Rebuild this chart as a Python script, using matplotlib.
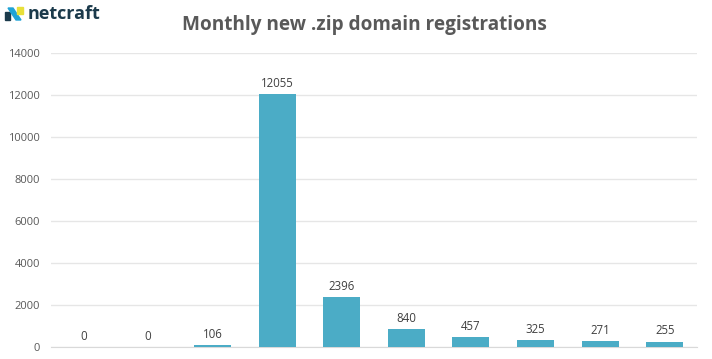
import matplotlib.pyplot as plt
from matplotlib.patches import Polygon

# Données
months = ['M1', 'M2', 'M3', 'M4', 'M5', 'M6', 'M7', 'M8', 'M9', 'M10']
registrations = [0, 0, 106, 12055, 2396, 840, 457, 325, 271, 255]
yticks = [0, 2000, 4000, 6000, 8000, 10000, 12000, 14000]

plt.rcParams['font.family'] = ['Open Sans', 'DejaVu Sans']

fig = plt.figure(figsize=(7.12, 3.59), dpi=100)
W, H = 712, 359
ax = fig.add_axes([51 / W, 12 / H, 646 / W, 294 / H])

x = range(len(months))
bars = ax.bar(x, registrations, width=0.57, color='#4BACC6', zorder=3)
for xi, v in zip(x, registrations):
    ax.annotate(str(v), (xi, v), xytext=(0, 3), textcoords='offset points',
                ha='center', va='bottom', fontsize=8.3, color='#404040')

ax.set_xlim(-0.5, len(months) - 0.5)
ax.set_ylim(0, 14000)
ax.set_yticks(yticks)
ax.set_yticklabels([str(t) for t in yticks], fontsize=8, color='#595959')
ax.set_xticks([])
ax.tick_params(axis='y', length=0, pad=8)
ax.grid(axis='y', color='#E6E6E6', linewidth=1, zorder=0)
for s in ['top', 'right', 'left']:
    ax.spines[s].set_visible(False)
ax.spines['bottom'].set_color('#D9D9D9')

fig.text(364 / W, 1 - 25 / H, 'Monthly new .zip domain registrations',
         ha='center', va='center', fontsize=13.7, fontweight='bold', color='#595959')

# Logo netcraft
fig.text(28 / W, 1 - 14 / H, 'netcraft', ha='left', va='center',
         fontsize=13, fontweight='bold', color='#1B3A4B')
fig.patches.append(Polygon([(5 / W, 1 - 12 / H), (10 / W, 1 - 12 / H), (10 / W, 1 - 20 / H), (5 / W, 1 - 20 / H)],
                           closed=True, transform=fig.transFigure, color='#1B3A4B'))
fig.patches.append(Polygon([(8 / W, 1 - 8 / H), (13 / W, 1 - 8 / H), (21 / W, 1 - 20 / H), (16 / W, 1 - 20 / H)],
                           closed=True, transform=fig.transFigure, color='#1FA3D6'))
fig.patches.append(Polygon([(17 / W, 1 - 7 / H), (23 / W, 1 - 7 / H), (23 / W, 1 - 14 / H), (17 / W, 1 - 14 / H)],
                           closed=True, transform=fig.transFigure, color='#E8E03A'))

fig.savefig('out.png', dpi=100)
